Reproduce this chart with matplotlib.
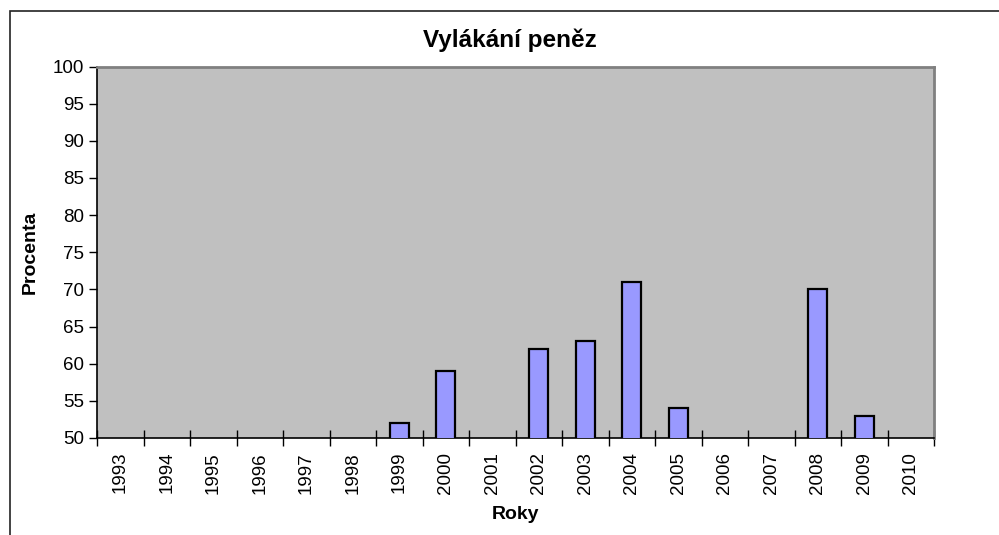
import matplotlib.pyplot as plt
import numpy as np
from matplotlib.patches import Rectangle

plt.rcParams['font.family'] = ['Liberation Sans', 'DejaVu Sans']

# data
roky = [str(r) for r in range(1993, 2011)]
procenta = [0, 0, 0, 0, 0, 0, 52, 59, 0, 62, 63, 71, 54, 0, 0, 70, 53, 0]

fig = plt.figure(figsize=(9.99, 5.35), dpi=100)
ax = fig.add_axes([97 / 999, 1 - 438 / 535, (934 - 97) / 999, (438 - 66.5) / 535])

# outer frame of the chart (cropped at right/bottom)
fig.patches.append(Rectangle((9.5 / 999, -0.05), 1.1, 1 - 10.5 / 535 + 0.05,
                             transform=fig.transFigure, fill=False,
                             edgecolor='#222222', linewidth=1.2))

x = np.arange(len(roky))
ax.bar(x, procenta, width=0.4, color='#9999FF', edgecolor='black', linewidth=1.6, zorder=3)

ax.set_facecolor('#C0C0C0')
ax.set_xlim(-0.5, len(roky) - 0.5)
ax.set_ylim(50, 100)
ax.set_yticks(range(50, 101, 5))

ax.set_xticks(x)
ax.set_xticklabels(roky, rotation=90)
ax.set_xticks(np.arange(-0.5, len(roky), 1), minor=True)
ax.tick_params(axis='x', which='major', length=0, pad=10, labelsize=13.5)
ax.tick_params(axis='x', which='minor', direction='inout', length=12, width=1)
ax.tick_params(axis='y', length=6, width=1, pad=3, labelsize=13.5)

for s in ['top', 'right']:
    ax.spines[s].set_color('#808080')
    ax.spines[s].set_linewidth(2)
for s in ['left', 'bottom']:
    ax.spines[s].set_color('black')
    ax.spines[s].set_linewidth(1.2)

ax.set_title('Vylákání peněz', fontsize=17.5, fontweight='bold', pad=14, x=0.493)
ax.set_xlabel('Roky', fontsize=14, fontweight='bold', labelpad=9)
ax.set_ylabel('Procenta', fontsize=14, fontweight='bold', labelpad=10)

fig.savefig('out.png', dpi=100)
